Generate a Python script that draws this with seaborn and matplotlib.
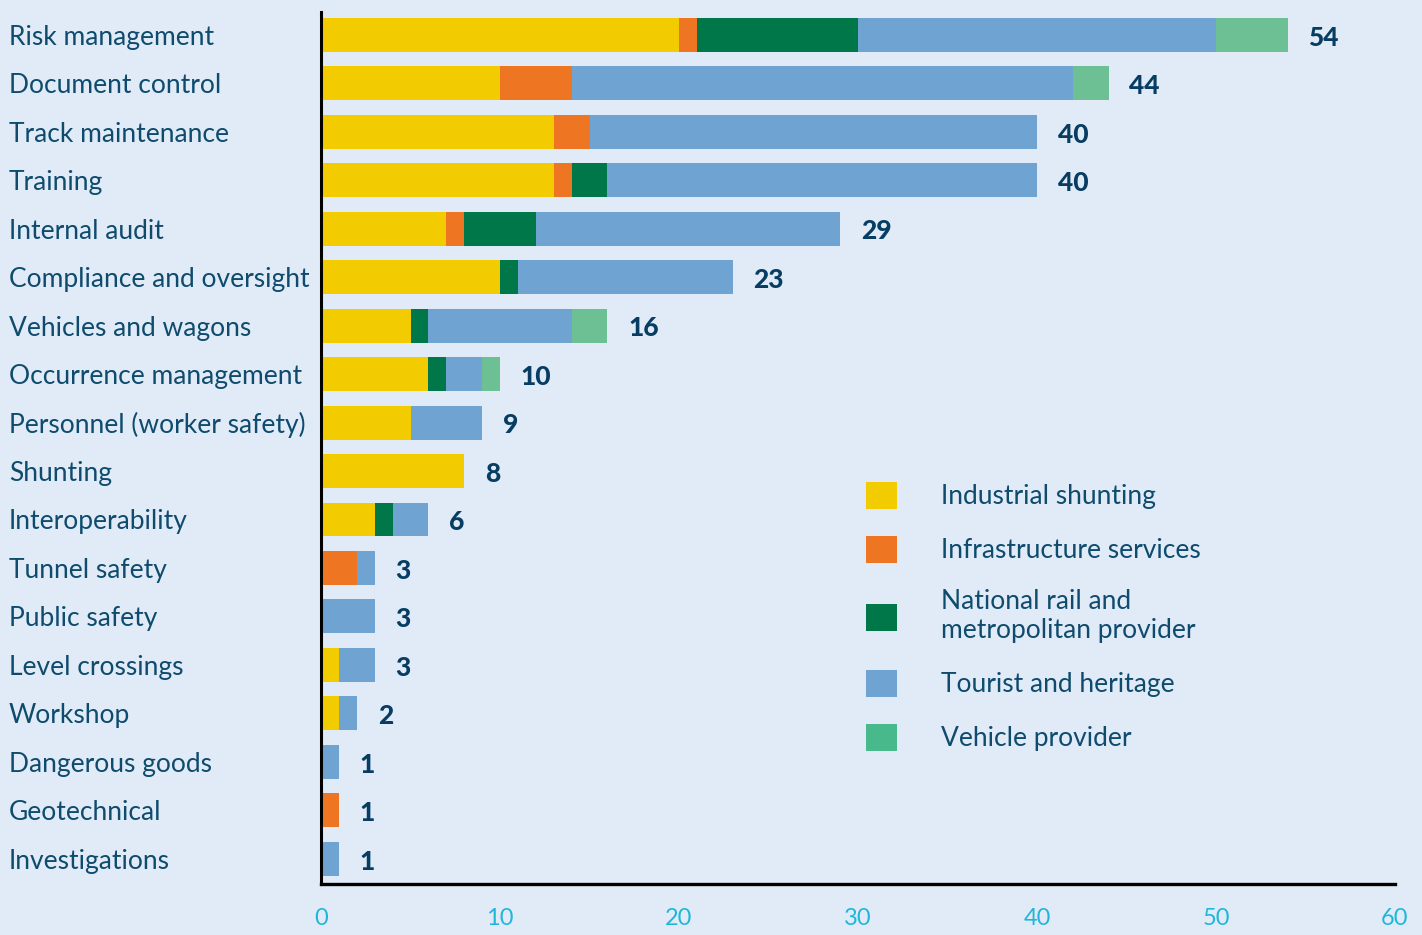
import seaborn as sns
import matplotlib.pyplot as plt
import pandas as pd
from matplotlib.patches import Patch

# Data
categories = ["Risk management", "Document control", "Track maintenance", "Training",
              "Internal audit", "Compliance and oversight", "Vehicles and wagons",
              "Occurrence management", "Personnel (worker safety)", "Shunting",
              "Interoperability", "Tunnel safety", "Public safety", "Level crossings",
              "Workshop", "Dangerous goods", "Geotechnical", "Investigations"]
industrial = [20, 10, 13, 13, 7, 10, 5, 6, 5, 8, 3, 0, 0, 1, 1, 0, 0, 0]
infrastructure = [1, 4, 2, 1, 1, 0, 0, 0, 0, 0, 0, 2, 0, 0, 0, 0, 1, 0]
national = [9, 0, 0, 2, 4, 1, 1, 1, 0, 0, 1, 0, 0, 0, 0, 0, 0, 0]
tourist = [20, 28, 25, 24, 17, 12, 8, 2, 4, 0, 2, 1, 3, 2, 1, 1, 0, 1]
vehicle = [4, 2, 0, 0, 0, 0, 2, 1, 0, 0, 0, 0, 0, 0, 0, 0, 0, 0]

series_names = ["Industrial shunting", "Infrastructure services",
                "National rail and\nmetropolitan provider", "Tourist and heritage",
                "Vehicle provider"]
bar_colors = ["#F2CB00", "#EE7623", "#007749", "#6FA3D2", "#6CC093"]
legend_colors = ["#F2CB00", "#EE7623", "#007749", "#6FA3D2", "#48B98A"]

bg = "#E1EBF7"
text_col = "#0E4B6D"
num_col = "#073D63"
tick_col = "#1FB7D9"

df = pd.DataFrame({"category": categories, "s0": industrial, "s1": infrastructure,
                   "s2": national, "s3": tourist, "s4": vehicle})
# cumulative sums so that each layer can be drawn over the next
cols = ["s0", "s1", "s2", "s3", "s4"]
cum = df[cols].cumsum(axis=1)
df["total"] = cum["s4"]

plt.rcParams['font.family'] = ['Lato', 'DejaVu Sans']
fig = plt.figure(figsize=(14.22, 9.35), dpi=100, facecolor=bg)
ax = fig.add_axes([321 / 1422, 1 - 884 / 935, (1395 - 321) / 1422, (884 - 12) / 935])
ax.set_facecolor(bg)

for i in reversed(range(len(cols))):
    sns.barplot(x=cum[cols[i]], y=df["category"], orient="h", color=bar_colors[i],
                saturation=1, width=0.7, ax=ax)

# totals at the end of each bar
for idx, tot in enumerate(df["total"]):
    ax.annotate(str(tot), xy=(tot, idx), xytext=(15, -2), textcoords="offset points",
                ha="left", va="center", fontsize=19, fontweight="black", color=num_col)

ax.set_xlim(0, 60)
ax.set_ylim(len(categories) - 0.48, -0.47)
ax.set_xlabel("")
ax.set_ylabel("")
ax.set_xticks(range(0, 61, 10))

for side in ["top", "right"]:
    ax.spines[side].set_visible(False)
ax.spines["left"].set_color("black")
ax.spines["left"].set_linewidth(2.2)
ax.spines["bottom"].set_color("black")
ax.spines["bottom"].set_linewidth(2.4)

ax.tick_params(axis="x", length=0, pad=17, labelsize=17, labelcolor=tick_col)
ax.tick_params(axis="y", length=0, pad=312 * 0.72, labelsize=19, labelcolor=text_col)
for lab in ax.get_yticklabels():
    lab.set_horizontalalignment("left")

handles = [Patch(facecolor=c, edgecolor="none") for c in legend_colors]
leg = ax.legend(handles, series_names, loc="upper left",
                bbox_to_anchor=((842 - 321) / 1074, 1 - (458 - 12) / 872),
                frameon=False, fontsize=19, labelcolor=text_col,
                handlelength=1.2, handleheight=1.2, handletextpad=1.65,
                labelspacing=1.0)

fig.savefig("out.png", dpi=100, facecolor=bg)
